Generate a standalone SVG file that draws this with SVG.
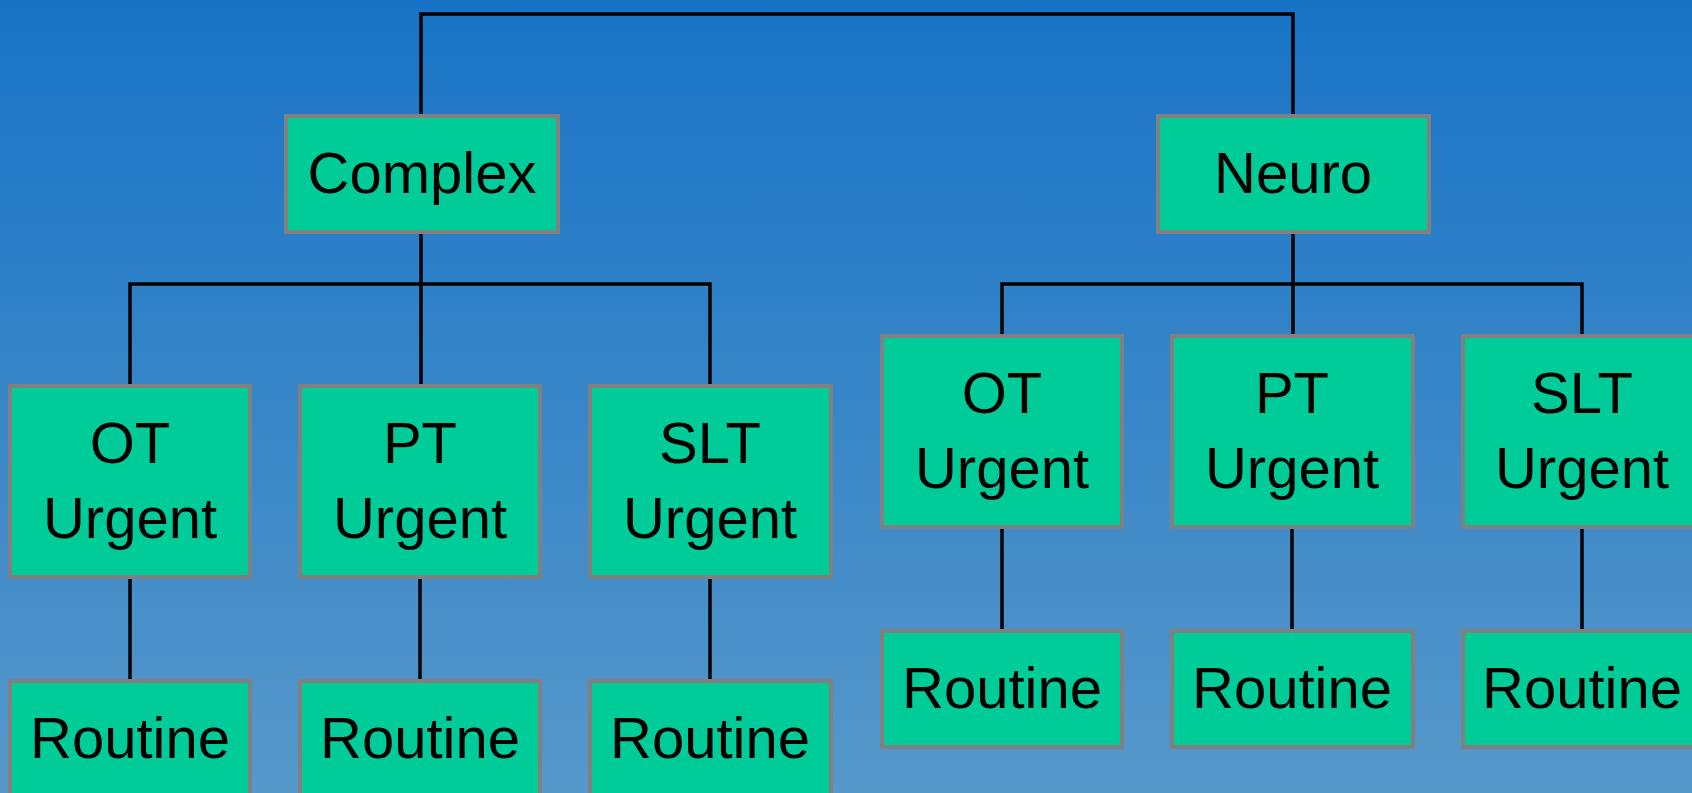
<svg xmlns="http://www.w3.org/2000/svg" width="1692" height="793" viewBox="0 0 1692 793">
<defs>
<linearGradient id="bg" x1="0" y1="0" x2="0" y2="1">
<stop offset="0" stop-color="#1873C6"/>
<stop offset="1" stop-color="#5698CA"/>
</linearGradient>
</defs>
<style>
.box{fill:#00CC99;stroke:#808080;stroke-width:4}
.lbl{font-family:"Liberation Sans",Arial,sans-serif;font-size:58px;fill:#000;text-anchor:middle}
.con{fill:none;stroke:#000;stroke-width:3.5}
</style>
<rect width="1692" height="793" fill="url(#bg)"/>
<g id="connectors">
<path class="con" d="M421,115 V14 H1293 V115"/>
<path class="con" d="M421,232 V386"/>
<path class="con" d="M130,386 V284 H710 V386"/>
<path class="con" d="M1293,232 V336"/>
<path class="con" d="M1002,336 V284 H1582 V336"/>
<path class="con" d="M130,577 V681 M420,577 V681 M710,577 V681"/>
<path class="con" d="M1002,527 V631 M1292,527 V631 M1582,527 V631"/>
</g>
<g id="complex"><rect class="box" x="286" y="116" width="272" height="116"/><text class="lbl" x="422" y="193">Complex</text></g>
<g id="neuro"><rect class="box" x="1158" y="116" width="271" height="116"/><text class="lbl" x="1293" y="193">Neuro</text></g>
<g id="c-ot"><rect class="box" x="10" y="386" width="240" height="191"/><text class="lbl" x="130"><tspan x="130" y="463">OT</tspan><tspan x="130" y="538">Urgent</tspan></text></g>
<g id="c-pt"><rect class="box" x="300" y="386" width="240" height="191"/><text class="lbl" x="420"><tspan x="420" y="463">PT</tspan><tspan x="420" y="538">Urgent</tspan></text></g>
<g id="c-slt"><rect class="box" x="590" y="386" width="241" height="191"/><text class="lbl" x="710"><tspan x="710" y="463">SLT</tspan><tspan x="710" y="538">Urgent</tspan></text></g>
<g id="c-ot-r"><rect class="box" x="10" y="681" width="240" height="130"/><text class="lbl" x="130" y="758">Routine</text></g>
<g id="c-pt-r"><rect class="box" x="300" y="681" width="240" height="130"/><text class="lbl" x="420" y="758">Routine</text></g>
<g id="c-slt-r"><rect class="box" x="590" y="681" width="241" height="130"/><text class="lbl" x="710" y="758">Routine</text></g>
<g id="n-ot"><rect class="box" x="882" y="336" width="240" height="191"/><text class="lbl" x="1002"><tspan x="1002" y="413">OT</tspan><tspan x="1002" y="488">Urgent</tspan></text></g>
<g id="n-pt"><rect class="box" x="1172" y="336" width="241" height="191"/><text class="lbl" x="1292"><tspan x="1292" y="413">PT</tspan><tspan x="1292" y="488">Urgent</tspan></text></g>
<g id="n-slt"><rect class="box" x="1463" y="336" width="240" height="191"/><text class="lbl" x="1582"><tspan x="1582" y="413">SLT</tspan><tspan x="1582" y="488">Urgent</tspan></text></g>
<g id="n-ot-r"><rect class="box" x="882" y="631" width="240" height="116"/><text class="lbl" x="1002" y="708">Routine</text></g>
<g id="n-pt-r"><rect class="box" x="1172" y="631" width="241" height="116"/><text class="lbl" x="1292" y="708">Routine</text></g>
<g id="n-slt-r"><rect class="box" x="1463" y="631" width="240" height="116"/><text class="lbl" x="1582" y="708">Routine</text></g>
</svg>
